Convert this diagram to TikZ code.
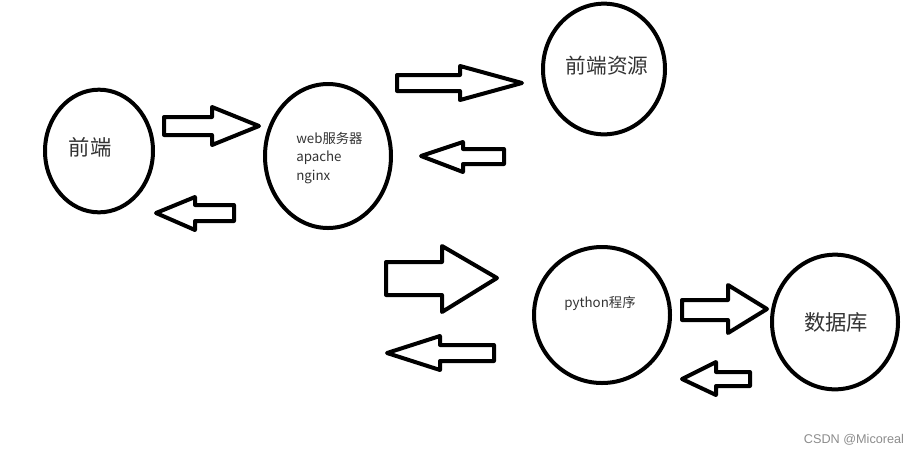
\documentclass[tikz,border=0pt]{standalone}
\usepackage{fontspec}
\setmainfont{Noto Sans CJK SC}
\newfontfamily\markfont{Liberation Sans}
\usetikzlibrary{shapes.geometric}

\tikzset{
  blob/.style={draw=black, line width=3pt, ellipse, inner sep=0pt},
  blockarrow/.style={draw=black, line width=3pt, line join=round},
  bigtext/.style={text=black!80, font=\fontsize{16}{19}\selectfont},
  smalltext/.style={text=black!80, font=\fontsize{10}{14}\selectfont, align=left, inner sep=0pt}
}

\begin{document}
\begin{tikzpicture}[x=0.75pt, y=-0.75pt]
  \useasboundingbox (0,0) rectangle (921,455);

  \begin{scope}
    % ellipses
    \node [blob, minimum width=81pt, minimum height=92pt] (front) at (99,151) {};
    \node [blob, minimum width=94.5pt, minimum height=108pt] (web) at (328,156) {};
    \node [blob, minimum width=91.5pt, minimum height=98pt] (res) at (604,69) {};
    \node [blob, minimum width=102pt, minimum height=102pt] (py) at (602,315) {};
    \node [blob, minimum width=94.5pt, minimum height=101pt] (db) at (835,322) {};

    % labels
    \node [bigtext] (frontlabel) at (90,147) {前端};
    \node [smalltext, anchor=west] (weblabel) at (296,158) {web服务器\\apache\\nginx};
    \node [bigtext, font=\fontsize{15.5}{18}\selectfont] (reslabel) at (607,66) {前端资源};
    \node [smalltext] (pylabel) at (600,303) {python程序};
    \node [bigtext] (dblabel) at (836,322) {数据库};

    % block arrows
    \draw [blockarrow] (164,117) -- (212,117) -- (212,107) -- (259,126) -- (212,145) -- (212,135) -- (164,135) -- cycle;
    \draw [blockarrow] (234,205) -- (195,205) -- (195,197) -- (156,213) -- (195,230) -- (195,221) -- (234,221) -- cycle;
    \draw [blockarrow] (397,75) -- (460,75) -- (460,66) -- (522,83) -- (460,100) -- (460,91) -- (397,91) -- cycle;
    \draw [blockarrow] (504,149) -- (463,149) -- (463,142) -- (421,156) -- (463,172) -- (463,164) -- (504,164) -- cycle;
    \draw [blockarrow] (386,262) -- (442,262) -- (442,246) -- (497,278) -- (442,312) -- (442,295) -- (386,295) -- cycle;
    \draw [blockarrow] (494,345) -- (440,345) -- (440,336) -- (387,353) -- (440,370) -- (440,361) -- (494,361) -- cycle;
    \draw [blockarrow] (682,300) -- (728,300) -- (728,285) -- (767,309) -- (728,333) -- (728,320) -- (682,320) -- cycle;
    \draw [blockarrow] (750,372) -- (716,372) -- (716,362) -- (682,379) -- (716,395) -- (716,386) -- (750,386) -- cycle;

    \node [text=black!45, font=\markfont\fontsize{9.5}{11}\selectfont] (mark) at (854,440) {CSDN @Micoreal};
  \end{scope}
\end{tikzpicture}
\end{document}
